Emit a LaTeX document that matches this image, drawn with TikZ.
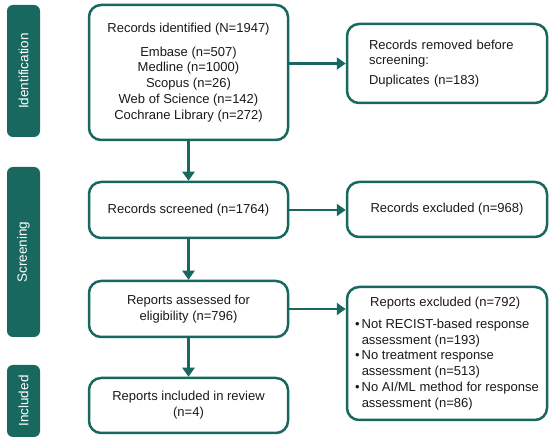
\documentclass[tikz,border=0pt]{standalone}
\usepackage{fontspec}
\setmainfont{Liberation Sans}
\usetikzlibrary{arrows.meta}
\definecolor{teal1}{RGB}{24,104,96}
\hyphenpenalty=10000
\begin{document}
\begin{tikzpicture}[x=1pt,y=-1pt,
  box/.style={draw=teal1, line width=2.5pt, rounded corners=12pt, minimum width=199pt,
    align=center, inner sep=0pt, text=black!90, font=\fontsize{13}{15.8}\selectfont},
  bar/.style={fill=teal1, rounded corners=6pt, minimum height=33pt, inner sep=0pt,
    text=white, rotate=90, font=\fontsize{13.5}{16}\selectfont},
  arr/.style={draw=teal1, line width=2.5pt, -{Triangle[width=12pt,length=9pt]}}]
\useasboundingbox (0,0) rectangle (550,441);

% phase bars
\node[bar, minimum width=132pt] (bid) at (23.5,71) {Identification};
\node[bar, minimum width=170pt] (bscr) at (23.5,252) {Screening};
\node[bar, minimum width=72pt] (binc) at (23.5,401) {Included};

% main column
\node[box, minimum height=135pt] (id) at (188.5,72.5)
  {Records identified (N=1947)\\[8pt]
   Embase (n=507)\\ Medline (n=1000)\\ Scopus (n=26)\\ Web of Science (n=142)\\ Cochrane Library (n=272)};
\node[box, minimum height=56pt] (scr) at (188.5,210) {Records screened (n=1764)};
\node[box, minimum height=56pt] (ass) at (188.5,309) {Reports assessed for\\ eligibility (n=796)};
\node[box, minimum height=55pt] (inc) at (188.5,405.5) {Reports included in review\\ (n=4)};

% right column
\node[box, minimum height=79pt, align=left, text width=156pt, minimum width=200pt] (rem) at (447,63.5)
  {Records removed before\\ screening:\\[4pt] Duplicates (n=183)};
\node[box, minimum height=55pt, minimum width=200pt] (exc) at (447,209.5) {Records excluded (n=968)};
\node[box, minimum height=133pt, minimum width=200pt, align=left] (rex) at (447,353.5)
  {\makebox[180pt]{Reports excluded (n=792)}\\[6pt]
   \textbullet\hspace{2pt}Not RECIST-based response\\
   \phantom{\textbullet\hspace{2pt}}assessment (n=193)\\
   \textbullet\hspace{2pt}No treatment response\\
   \phantom{\textbullet\hspace{2pt}}assessment (n=513)\\
   \textbullet\hspace{2pt}No AI/ML method for response\\
   \phantom{\textbullet\hspace{2pt}}assessment (n=86)};

% connectors
\draw[arr] (id.south) -- (scr.north);
\draw[arr] (scr.south) -- (ass.north);
\draw[arr] (ass.south) -- (inc.north);
\draw[arr] (id.east |- rem.west) -- (rem.west);
\draw[arr] (scr.east) -- (scr.east -| exc.west);
\draw[arr] (ass.east) -- (ass.east -| rex.west);
\end{tikzpicture}
\end{document}
